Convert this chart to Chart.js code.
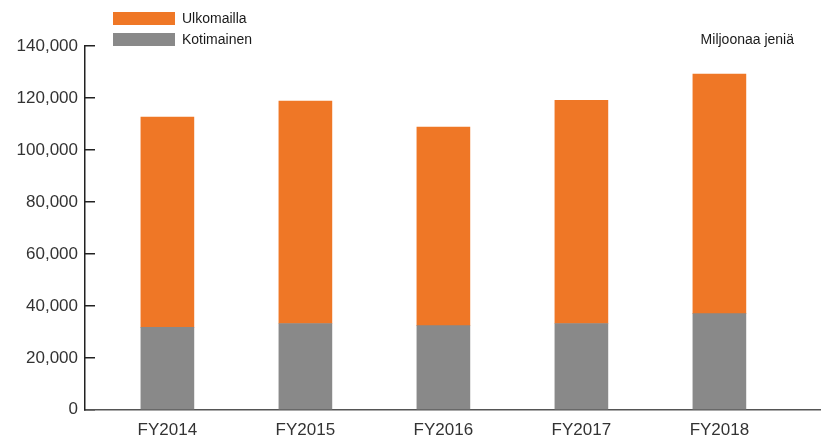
<!DOCTYPE html>
<html>
<head>
<meta charset="utf-8">
<script src="https://cdn.jsdelivr.net/npm/chart.js@4"></script>
<style>
  html, body { margin: 0; padding: 0; background: #fff; }
  #wrap { width: 829px; height: 437px; position: relative; }
</style>
</head>
<body>
<div id="wrap"><canvas id="salesChart"></canvas></div>
<script>
// Liikevaihto, miljoonaa jeniä
const years = ['FY2014', 'FY2015', 'FY2016', 'FY2017', 'FY2018'];
const kotimainen = [31700, 33200, 32400, 33200, 37000];
const ulkomailla = [80900, 85600, 76400, 85900, 92200];
const yTicks = [0, 20000, 40000, 60000, 80000, 100000, 120000, 140000];
const unitLabel = 'Miljoonaa jeniä';

const orange = '#EF7726';
const grey = '#898989';

// legenda pystyyn vasemmalle ylös + yksikköteksti
const legendPlugin = {
    id: 'sideLegend',
    afterDraw(chart) {
        const ctx = chart.ctx;
        ctx.save();
        ctx.font = '14px "Liberation Sans", Arial, sans-serif';
        ctx.textBaseline = 'middle';
        ctx.fillStyle = '#1a1a1a';
        const items = [chart.data.datasets[1], chart.data.datasets[0]];
        items.forEach((ds, i) => {
            const y = 12 + i * 21;
            ctx.fillStyle = ds.backgroundColor;
            ctx.fillRect(113, y, 62, 13);
            ctx.fillStyle = '#1a1a1a';
            ctx.textAlign = 'left';
            ctx.fillText(ds.label, 182, y + 7);
        });
        ctx.textAlign = 'right';
        ctx.fillText(unitLabel, 794, 40);
        ctx.restore();
    }
};

function drawChart() {
    const ctx = document.getElementById('salesChart').getContext('2d');
    new Chart(ctx, {
        type: 'bar',
        data: {
            datasets: [{
                label: 'Kotimainen',
                data: kotimainen.map((v, i) => ({ x: i, y: v })),
                backgroundColor: grey
            }, {
                label: 'Ulkomailla',
                data: ulkomailla.map((v, i) => ({ x: i, y: v })),
                backgroundColor: orange
            }]
        },
        options: {
            responsive: true,
            maintainAspectRatio: false,
            animation: false,
            barThickness: 53,
            layout: { padding: { top: 46, right: 9, left: 0, bottom: 0 } },
            plugins: {
                legend: { display: false },
                tooltip: { enabled: false }
            },
            scales: {
                x: {
                    type: 'linear',
                    stacked: true,
                    offset: false,
                    min: -0.597,
                    max: 4.729,
                    afterBuildTicks: axis => {
                        axis.ticks = years.map((_, i) => ({ value: i }));
                    },
                    afterFit: scale => { scale.height = 26.5; },
                    grid: { display: false, drawTicks: false },
                    border: { display: true, color: '#555', width: 1.5 },
                    ticks: {
                        padding: 10,
                        color: '#333',
                        font: { family: '"Liberation Sans", Arial, sans-serif', size: 17 },
                        callback: v => years[v] ?? ''
                    }
                },
                y: {
                    stacked: true,
                    min: 0,
                    max: 140000,
                    afterBuildTicks: axis => {
                        axis.ticks = yTicks.map(v => ({ value: v }));
                    },
                    afterFit: scale => { scale.width = 85; },
                    grid: {
                        drawOnChartArea: false,
                        drawTicks: true,
                        tickLength: -10,
                        color: '#222',
                        lineWidth: 1.5
                    },
                    border: { display: true, color: '#222', width: 1.5 },
                    ticks: {
                        padding: 17,
                        color: '#333',
                        font: { family: '"Liberation Sans", Arial, sans-serif', size: 17 },
                        callback: v => v.toLocaleString('en-US')
                    }
                }
            }
        },
        plugins: [legendPlugin]
    });
}

document.addEventListener('DOMContentLoaded', () => {
    drawChart();
});
</script>
</body>
</html>
